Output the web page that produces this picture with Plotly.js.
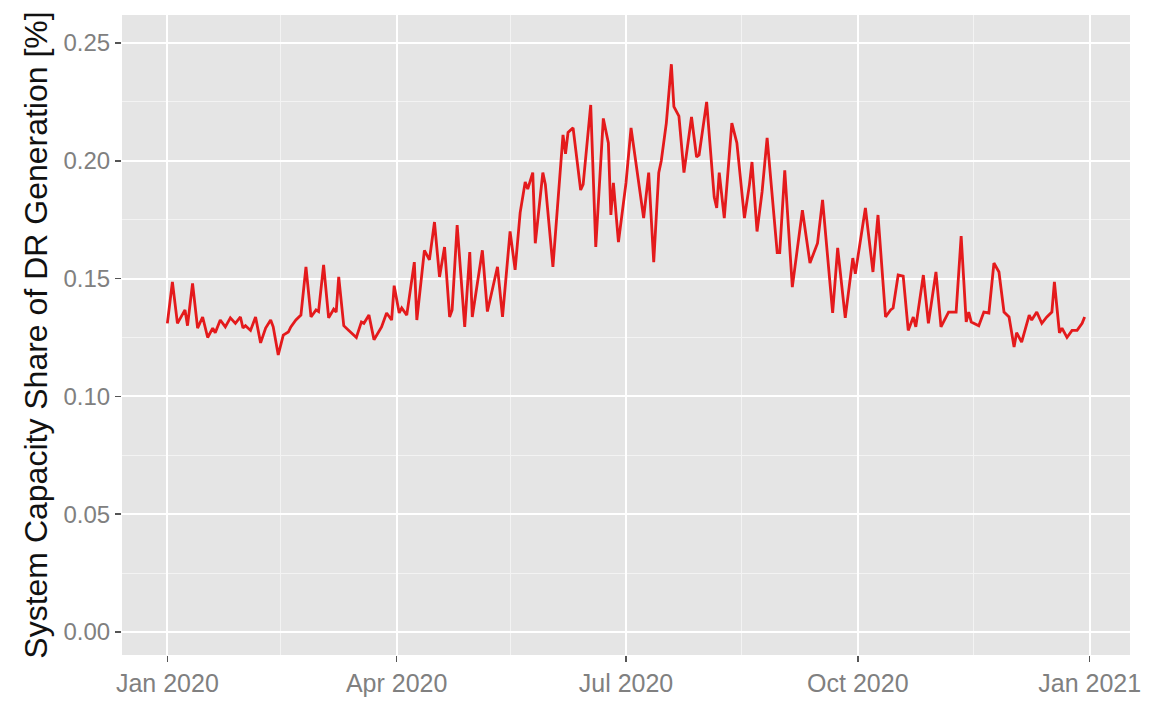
<!DOCTYPE html>
<html>
<head>
<meta charset="utf-8">
<script src="https://cdn.plot.ly/plotly-3.0.1.min.js"></script>
<style>
  body { margin: 0; background: #ffffff; }
  #chart { width: 1151px; height: 710px; }
</style>
</head>
<body>
<div id="chart"></div>
<script>
// day offsets from 2020-01-01 at each turn of the line
var dayOffset = [0, 2, 4, 7, 8, 10, 12, 14, 16, 18, 19, 21, 23, 25, 27, 29, 30, 31, 33, 35,
    37, 39, 41, 42, 44, 46, 48, 49, 51, 53, 55, 57, 59, 60, 62, 64, 66, 67, 68, 70,
    72, 75, 77, 78, 80, 82, 85, 87, 89, 90, 92, 93, 95, 98, 99, 102, 104, 106, 108, 110,
    112, 113, 115, 118, 120, 121, 125, 127, 131, 133, 136, 138, 140, 142, 143, 145, 146, 149, 150, 153,
    157, 158, 159, 161, 164, 165, 168, 170, 173, 175, 176, 177, 179, 182, 184, 188, 189, 191, 193, 195,
    196, 198, 200, 201, 203, 205, 208, 210, 211, 214, 217, 218, 219, 221, 224, 226, 229, 231, 232, 234,
    236, 238, 242, 243, 245, 248, 252, 255, 258, 260, 264, 266, 269, 272, 273, 277, 280, 282, 285, 287,
    288, 290, 292, 294, 296, 297, 300, 302, 305, 307, 310, 313, 315, 317, 318, 319, 322, 324, 326, 328,
    330, 332, 334, 336, 337, 339, 342, 343, 345, 347, 349, 351, 352, 354, 355, 357, 359, 361, 363, 364];

var share = [0.131, 0.1486, 0.131, 0.1367, 0.130, 0.148, 0.129, 0.1337, 0.125, 0.129, 0.127, 0.1324, 0.1295, 0.1333, 0.131, 0.1337, 0.129, 0.130, 0.128, 0.1337,
    0.1227, 0.129, 0.1324, 0.1295, 0.1176, 0.126, 0.1273, 0.1295, 0.1324, 0.1345, 0.155, 0.1337, 0.1367, 0.136, 0.1558, 0.1333, 0.137, 0.1358, 0.1507, 0.130,
    0.128, 0.125, 0.1316, 0.131, 0.1345, 0.124, 0.1295, 0.1354, 0.1324, 0.147, 0.1354, 0.1375, 0.1345, 0.157, 0.1324, 0.162, 0.158, 0.174, 0.1507, 0.1634,
    0.1337, 0.1367, 0.1727, 0.1295, 0.1613, 0.1337, 0.162, 0.136, 0.155, 0.1337, 0.170, 0.1537, 0.178, 0.191, 0.188, 0.195, 0.165, 0.195, 0.190, 0.155,
    0.211, 0.203, 0.212, 0.214, 0.1876, 0.190, 0.2237, 0.1634, 0.218, 0.2076, 0.177, 0.1906, 0.1655, 0.1906, 0.214, 0.182, 0.1757, 0.195, 0.157, 0.195,
    0.200, 0.216, 0.241, 0.223, 0.219, 0.195, 0.2186, 0.2016, 0.2025, 0.225, 0.1846, 0.180, 0.195, 0.1757, 0.216, 0.2076, 0.1757, 0.190, 0.1995, 0.170,
    0.1868, 0.2097, 0.161, 0.161, 0.196, 0.1464, 0.179, 0.1566, 0.165, 0.1834, 0.1354, 0.163, 0.1333, 0.1587, 0.152, 0.180, 0.1528, 0.177, 0.1337, 0.1367,
    0.1375, 0.1515, 0.151, 0.128, 0.1337, 0.1295, 0.1515, 0.131, 0.1528, 0.1295, 0.1358, 0.1358, 0.168, 0.1316, 0.1358, 0.1316, 0.130, 0.1358, 0.1354, 0.1566,
    0.1528, 0.1358, 0.1337, 0.121, 0.127, 0.123, 0.1345, 0.1324, 0.1358, 0.131, 0.1337, 0.1358, 0.1486, 0.127, 0.129, 0.125, 0.128, 0.128, 0.131, 0.1337];

var majorTicks = ['2020-01-01', '2020-04-01', '2020-07-01', '2020-10-01', '2021-01-01'];
var majorLabels = ['Jan 2020', 'Apr 2020', 'Jul 2020', 'Oct 2020', 'Jan 2021'];
var minorTicks = ['2020-02-15', '2020-05-16', '2020-08-16', '2020-11-16'];

function toDate(d) {
    var t = new Date(Date.UTC(2020, 0, 1) + d * 86400000);
    return t.toISOString().slice(0, 10);
}

var dates = dayOffset.map(toDate);

var trace = {
    x: dates,
    y: share,
    type: 'scatter',
    mode: 'lines',
    showlegend: false,
    line: { color: '#e41a1c', width: 2.8 }
};

var layout = {
    width: 1151,
    height: 710,
    margin: { l: 122, r: 21, t: 15, b: 55 },
    paper_bgcolor: '#ffffff',
    plot_bgcolor: '#e5e5e5',
    font: { family: 'Liberation Sans, Arial, sans-serif', color: '#808080', size: 24 },
    xaxis: {
        type: 'date',
        range: ['2019-12-14', '2021-01-17'],
        tickmode: 'array',
        tickvals: majorTicks,
        ticktext: majorLabels,
        ticks: 'outside',
        ticklen: 6,
        tickwidth: 1.5,
        tickcolor: '#555555',
        showgrid: true,
        gridcolor: '#ffffff',
        gridwidth: 2,
        minor: { tickmode: 'array', tickvals: minorTicks, showgrid: true, gridcolor: '#f3f3f3', gridwidth: 1, ticks: '' },
        zeroline: false,
        showline: false,
        tickfont: { size: 25, color: '#808080' }
    },
    yaxis: {
        range: [-0.0098, 0.2619],
        tickmode: 'array',
        tickvals: [0, 0.05, 0.10, 0.15, 0.20, 0.25],
        tickformat: '.2f',
        ticks: 'outside',
        ticklen: 6,
        tickwidth: 1.5,
        tickcolor: '#555555',
        showgrid: true,
        gridcolor: '#ffffff',
        gridwidth: 2,
        minor: { tickmode: 'array', tickvals: [0.025, 0.075, 0.125, 0.175, 0.225], showgrid: true, gridcolor: '#f3f3f3', gridwidth: 1, ticks: '' },
        zeroline: false,
        showline: false,
        tickfont: { size: 24, color: '#808080' },
        title: {
            text: 'System Capacity Share of DR Generation [%]',
            font: { size: 32, color: '#111111' },
            standoff: 6
        }
    }
};

Plotly.newPlot('chart', [trace], layout, { displayModeBar: false, staticPlot: true });
</script>
</body>
</html>
